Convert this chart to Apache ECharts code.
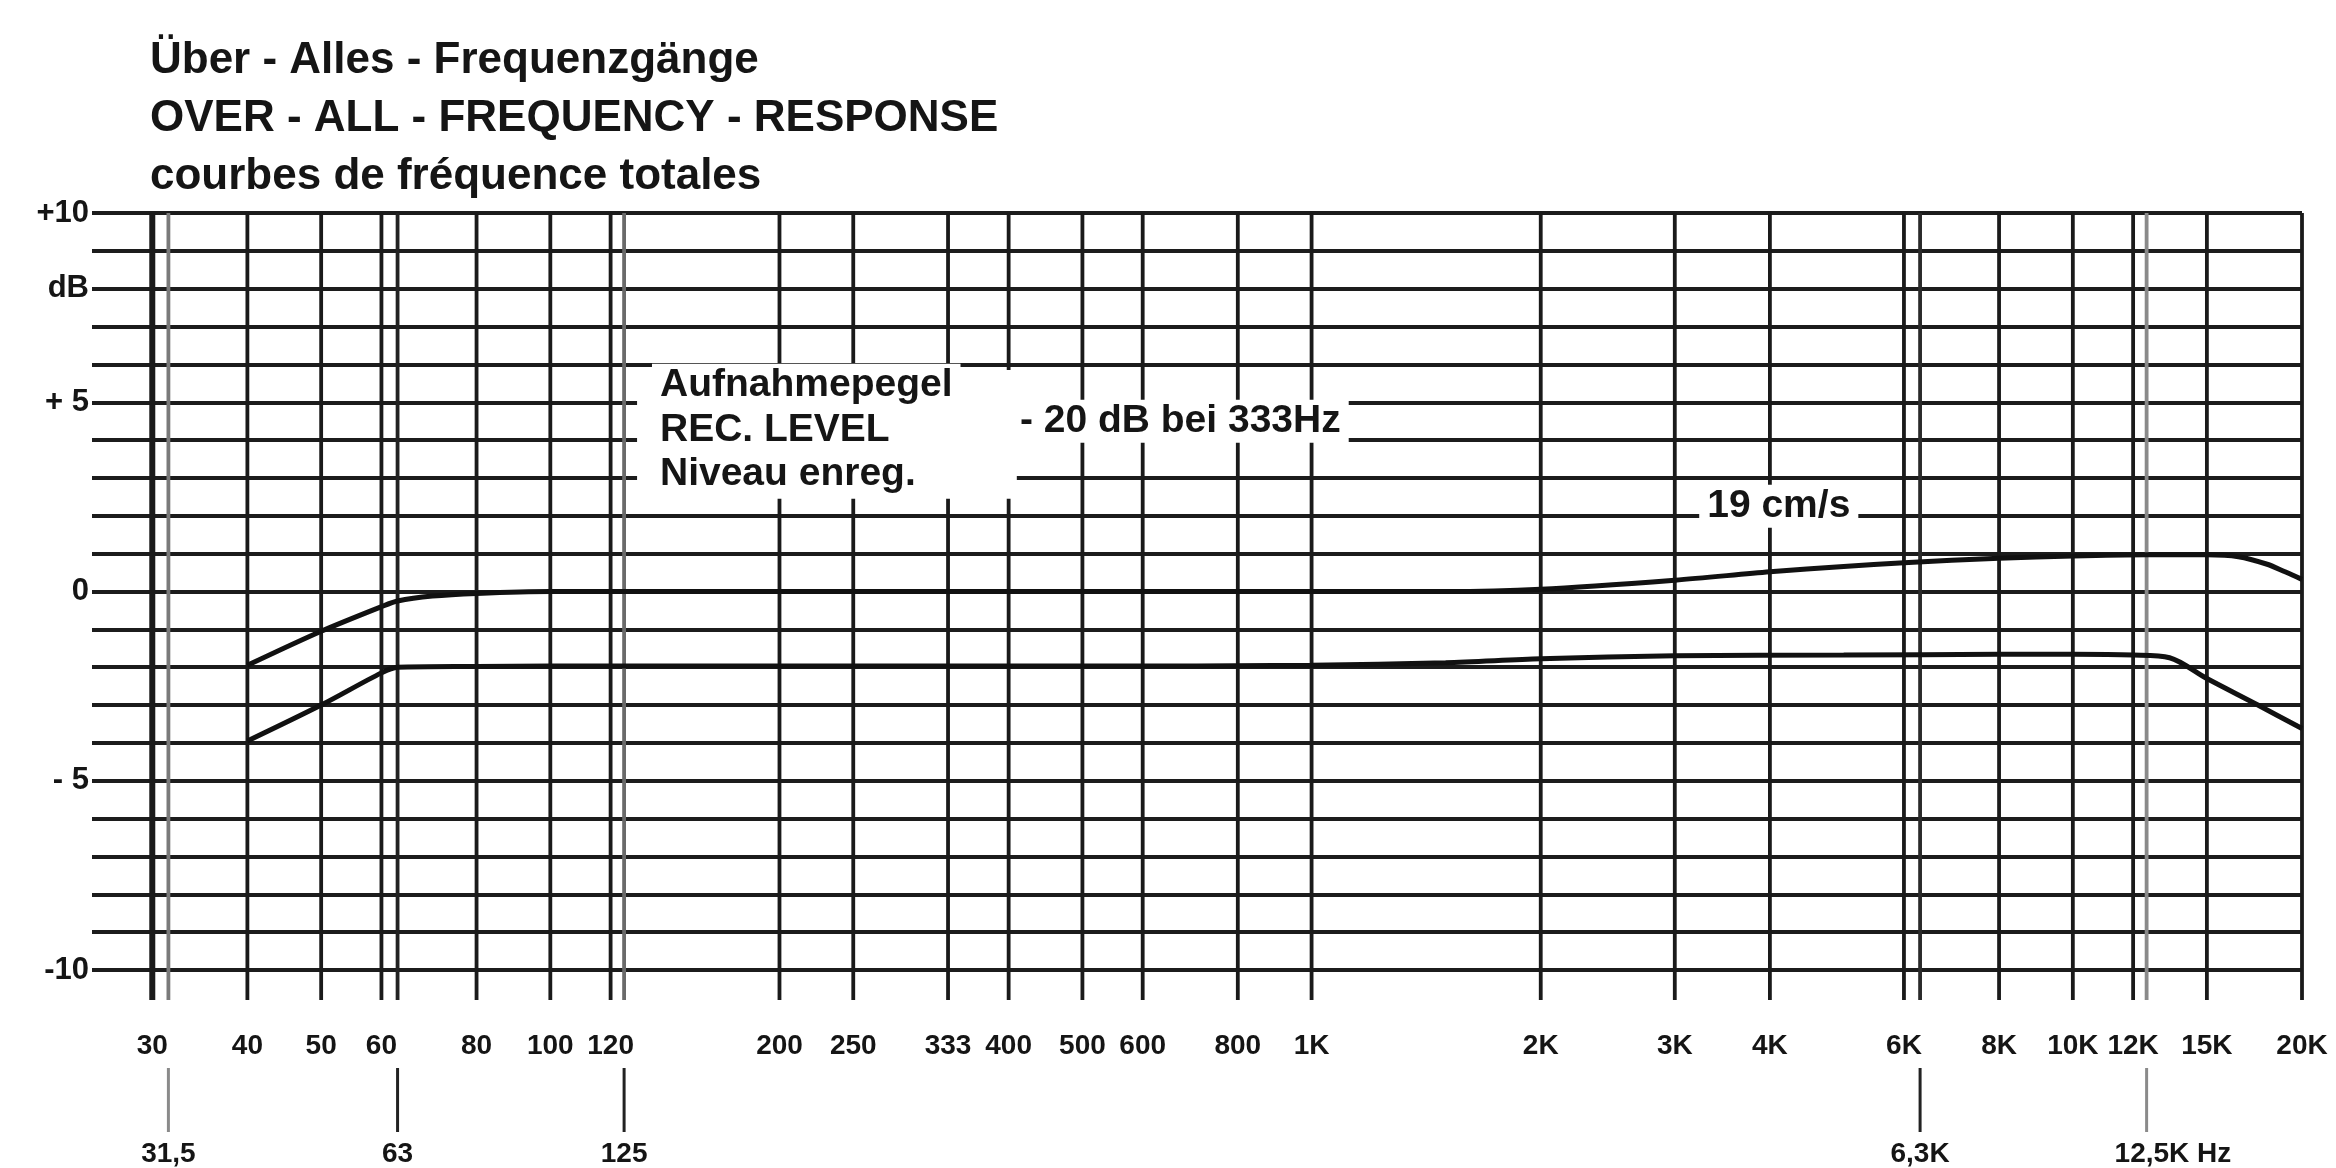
<!DOCTYPE html>
<html>
<head>
<meta charset="utf-8">
<title>Über - Alles - Frequenzgänge</title>
<script src="https://cdn.jsdelivr.net/npm/echarts@6/dist/echarts.min.js"></script>
<style>
  html, body { margin: 0; padding: 0; background: #fff; }
  #chart { width: 2336px; height: 1168px; }
</style>
</head>
<body>
<div id="chart"></div>
<script>
const titleLines = ['Über - Alles - Frequenzgänge', 'OVER - ALL - FREQUENCY - RESPONSE', 'courbes de fréquence totales']

// frequency grid, first label row
const freqMain = [30, 40, 50, 60, 80, 100, 120, 200, 250, 333, 400, 500, 600, 800, 1000, 2000, 3000, 4000, 6000, 8000, 10000, 12000, 15000, 20000]
const freqMainLabels = ['30', '40', '50', '60', '80', '100', '120', '200', '250', '333', '400', '500', '600', '800', '1K', '2K', '3K', '4K', '6K', '8K', '10K', '12K', '15K', '20K']
// third-octave marks, second label row
const freqThird = [31.5, 63, 125, 6300, 12500]
const freqThirdLabels = ['31,5', '63', '125', '6,3K', '12,5K Hz']

const dbTicks = [10, 8, 5, 0, -5, -10]
const dbTickLabels = ['+10', 'dB', '+ 5', '0', '- 5', '-10']

// upper response curve
const upperFreq = [40, 50, 60, 63, 70, 80, 100, 200, 500, 1000, 1500, 2000, 3000, 4000, 5000, 6000, 8000, 10000, 12500, 15000, 16500, 18000, 19000, 20000]
const upperDb = [-1.95, -1.05, -0.4, -0.25, -0.12, -0.05, 0, 0, 0, 0, 0, 0.06, 0.3, 0.52, 0.66, 0.76, 0.88, 0.94, 0.97, 0.97, 0.92, 0.72, 0.52, 0.32]

// lower response curve
const lowerFreq = [40, 50, 60, 63, 80, 100, 200, 500, 1000, 1500, 2000, 3000, 5000, 8000, 10000, 12000, 13400, 15000, 17500, 20000]
const lowerDb = [-3.95, -3.0, -2.15, -2.0, -1.98, -1.97, -1.97, -1.97, -1.95, -1.88, -1.78, -1.7, -1.68, -1.66, -1.66, -1.68, -1.75, -2.3, -3.0, -3.62]

// annotations: [freq, dB, text]
const notes = [
  [136, 5.45, 'Aufnahmepegel'],
  [136, 4.25, 'REC. LEVEL'],
  [136, 3.1, 'Niveau enreg.'],
  [404, 4.5, '- 20 dB bei 333Hz'],
  [3230, 2.25, '19 cm/s']
]
// blank area behind the rec level note: [freqFrom, dbTop, freqTo, dbBottom]
const noteBox = [[130, 5.85, 410, 2.45]]

const FONT = '"Liberation Sans", Arial, sans-serif'
const NARROW = '"Liberation Sans Narrow", "Liberation Sans", sans-serif'
const INK = '#151515'
const thirdColors = ['#7a7a7a', '#222', '#6a6a6a', '#2a2a2a', '#8a8a8a']
const thirdTickColors = ['#8a8a8a', '#222', '#222', '#222', '#8a8a8a']

const zip = (xs, ys) => xs.map((x, i) => [x, ys[i]])

let chart = echarts.init(document.getElementById('chart'))

chart.setOption({
  animation: false,
  backgroundColor: '#fff',
  title: {
    text: titleLines.join('\n'),
    left: 145,
    top: 27,
    textStyle: { fontFamily: FONT, fontSize: 44, fontWeight: 'bold', lineHeight: 58, color: INK }
  },
  grid: { left: 92, right: 34, top: 213, bottom: 198, outerBoundsMode: 'none' },
  xAxis: {
    type: 'log',
    logBase: 10,
    min: 25,
    max: 20000,
    axisLine: { show: false },
    axisTick: { show: false },
    axisLabel: { show: false },
    splitLine: { show: false }
  },
  yAxis: {
    type: 'value',
    min: -10,
    max: 10,
    interval: 1,
    axisLine: { show: false },
    axisTick: { show: false },
    axisLabel: {
      margin: 3,
      fontFamily: NARROW,
      fontSize: 31,
      fontWeight: 'bold',
      color: INK,
      formatter: v => {
        let i = dbTicks.indexOf(v)
        return i >= 0 ? dbTickLabels[i] : ''
      }
    },
    splitLine: { lineStyle: { color: '#1c1c1c', width: 3.8 } }
  },
  series: [
    {
      name: 'grid-main',
      type: 'custom',
      z: 1,
      clip: false,
      silent: true,
      data: freqMain.map(f => [f, 0]),
      renderItem: (params, api) => {
        let f = api.value(0)
        let top = api.coord([f, 10])
        let bot = api.coord([f, -10])
        return {
          type: 'group',
          children: [
            { type: 'line', shape: { x1: top[0], y1: top[1], x2: bot[0], y2: bot[1] + 30 }, style: { stroke: '#1a1a1a', lineWidth: f === 30 ? 6 : 3.8 } },
            { type: 'text', x: bot[0], y: bot[1] + 76, style: { text: freqMainLabels[params.dataIndex], font: 'bold 28px ' + NARROW, fill: INK, align: 'center', verticalAlign: 'middle' } }
          ]
        }
      }
    },
    {
      name: 'grid-third',
      type: 'custom',
      z: 1,
      clip: false,
      silent: true,
      data: freqThird.map(f => [f, 0]),
      renderItem: (params, api) => {
        let i = params.dataIndex
        let f = api.value(0)
        let top = api.coord([f, 10])
        let bot = api.coord([f, -10])
        let label = freqThirdLabels[i]
        let hasUnit = label.indexOf('Hz') >= 0
        return {
          type: 'group',
          children: [
            { type: 'line', shape: { x1: top[0], y1: top[1], x2: bot[0], y2: bot[1] + 30 }, style: { stroke: thirdColors[i], lineWidth: 3.8 } },
            { type: 'line', shape: { x1: bot[0], y1: bot[1] + 98, x2: bot[0], y2: bot[1] + 162 }, style: { stroke: thirdTickColors[i], lineWidth: 3 } },
            { type: 'text', x: hasUnit ? bot[0] - 32 : bot[0], y: bot[1] + 184, style: { text: label, font: 'bold 28px ' + NARROW, fill: INK, align: hasUnit ? 'left' : 'center', verticalAlign: 'middle' } }
          ]
        }
      }
    },
    {
      name: 'note-box',
      type: 'custom',
      z: 2,
      silent: true,
      data: noteBox,
      renderItem: (params, api) => {
        let a = api.coord([api.value(0), api.value(1)])
        let b = api.coord([api.value(2), api.value(3)])
        return { type: 'rect', shape: { x: a[0], y: a[1], width: b[0] - a[0], height: b[1] - a[1] }, style: { fill: '#fff' } }
      }
    },
    {
      name: 'upper',
      type: 'line',
      z: 3,
      data: zip(upperFreq, upperDb),
      smooth: 0.3,
      symbol: 'none',
      lineStyle: { color: '#111', width: 5 }
    },
    {
      name: 'lower',
      type: 'line',
      z: 3,
      data: zip(lowerFreq, lowerDb),
      smooth: 0.3,
      symbol: 'none',
      lineStyle: { color: '#111', width: 5 }
    },
    {
      name: 'notes',
      type: 'custom',
      z: 4,
      clip: false,
      silent: true,
      data: notes.map(n => [n[0], n[1]]),
      renderItem: (params, api) => {
        let p = api.coord([api.value(0), api.value(1)])
        return {
          type: 'text',
          x: p[0],
          y: p[1],
          style: {
            text: notes[params.dataIndex][2],
            font: 'bold 39px ' + FONT,
            fill: INK,
            align: 'left',
            verticalAlign: 'middle',
            backgroundColor: '#fff',
            padding: [2, 8]
          }
        }
      }
    }
  ]
})
</script>
</body>
</html>
